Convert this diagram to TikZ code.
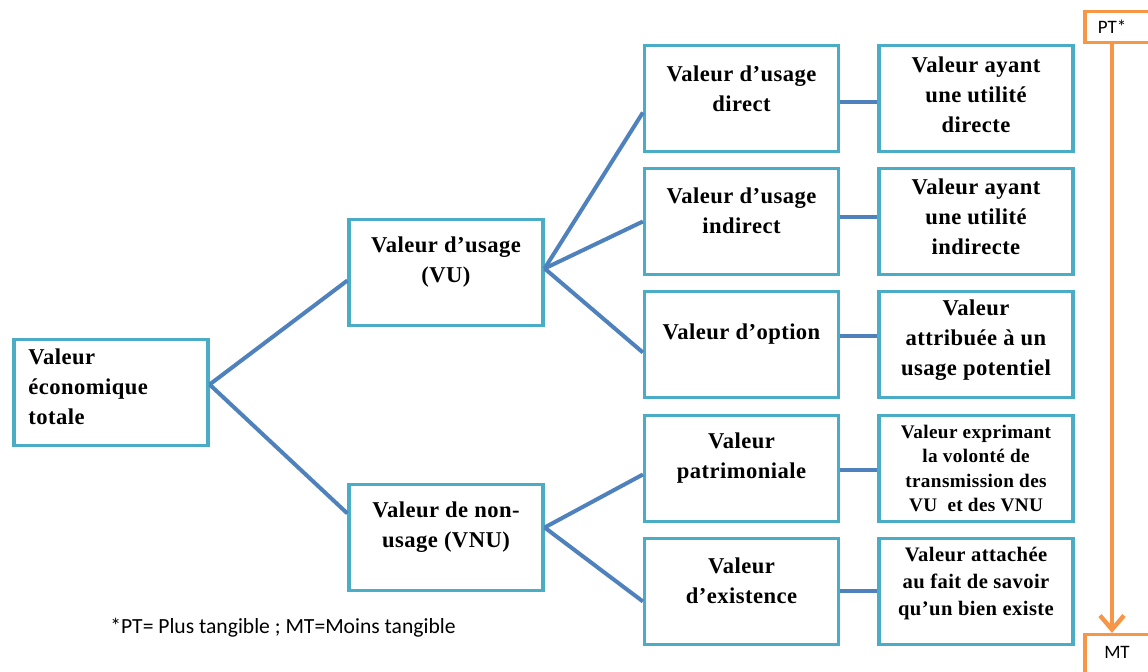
\documentclass[tikz,border=0pt]{standalone}
\usepackage{fontspec}
\setmainfont{Liberation Serif}[LetterSpace=2]
\newfontfamily\notefont{Carlito}
\usetikzlibrary{arrows.meta}

\definecolor{boxteal}{HTML}{4BACC6}
\definecolor{linkblue}{HTML}{4F81BD}
\definecolor{tangorange}{HTML}{F79646}

\tikzset{
  valbox/.style={draw=boxteal,line width=1.6pt,minimum width=97pt,minimum height=53pt,inner sep=0pt},
  valtxt/.style={font=\bfseries\fontsize{11.3}{15}\selectfont,align=center,inner sep=0pt},
  mdtxt/.style={font=\bfseries\fontsize{10.3}{13.3}\selectfont,align=center,inner sep=0pt},
  smtxt/.style={font=\bfseries\fontsize{9.6}{12.2}\selectfont,align=center,inner sep=0pt},
  link/.style={draw=linkblue,line width=2pt},
  tangbox/.style={draw=tangorange,line width=1.6pt,minimum width=37pt,inner sep=0pt},
  tangtxt/.style={font=\notefont\fontsize{9.5}{11}\selectfont,inner sep=0pt},
  tang/.style={draw=tangorange,line width=2.2pt,-{Straight Barb[length=7pt,width=12pt]}},
}

\begin{document}
\begin{tikzpicture}[x=0.5pt,y=-0.5pt]
\useasboundingbox (0,0) rectangle (1148,672);
% valeur totale
\node[valbox] (vet) at (111,392.5) {};
\node[valtxt,align=left,anchor=west] (vett) at (28,387) {Valeur\\économique\\totale};
% usage / non-usage
\node[valbox] (vu) at (446,272.5) {};
\node[valtxt] (vut) at (446,262) {Valeur d'usage\\(VU)};
\node[valbox] (vnu) at (446,537.5) {};
\node[valtxt] (vnut) at (446,527.5) {Valeur de non-\\usage (VNU)};
% types de valeur
\node[valbox] (vud) at (741.5,98.5) {};
\node[valtxt] (vudt) at (741.5,88.5) {Valeur d'usage\\direct};
\node[valbox] (vui) at (741.5,221.5) {};
\node[valtxt] (vuit) at (741.5,210.5) {Valeur d'usage\\indirect};
\node[valbox] (vo) at (741.5,344.5) {};
\node[valtxt] (vot) at (741.5,334) {Valeur d'option};
\node[valbox] (vp) at (741.5,468.5) {};
\node[valtxt] (vpt) at (741.5,458) {Valeur\\patrimoniale};
\node[valbox] (ve) at (741.5,591.5) {};
\node[valtxt] (vet2) at (741.5,580.5) {Valeur\\d'existence};
% definitions
\node[valbox] (dd) at (976,98.5) {};
\node[valtxt] (ddt) at (976,95) {Valeur ayant\\une utilité\\directe};
\node[valbox] (di) at (976,221.5) {};
\node[valtxt] (dit) at (976,217) {Valeur ayant\\une utilité\\indirecte};
\node[valbox] (dop) at (976,344.5) {};
\node[valtxt] (dopt) at (976,340) {Valeur\\attribuée à un\\usage potentiel};
\node[valbox] (dp) at (976,468.5) {};
\node[smtxt] (dpt) at (976,468.5) {Valeur exprimant\\la volonté de\\transmission des\\VU\ \ et des VNU};
\node[valbox] (de) at (976,591.5) {};
\node[mdtxt] (det) at (976,583.5) {Valeur attachée\\au fait de savoir\\qu'un bien existe};
% liens
\draw[link] ([yshift=4pt]vet.east) -- ([yshift=-4pt]vu.west);
\draw[link] ([yshift=4pt]vet.east) -- ([yshift=12pt]vnu.west);
\draw[link] ([yshift=2pt]vu.east) -- ([yshift=-7pt]vud.west);
\draw[link] ([yshift=2pt]vu.east) -- (vui.west);
\draw[link] ([yshift=2pt]vu.east) -- ([yshift=-4pt]vo.west);
\draw[link] ([yshift=5pt]vnu.east) -- ([yshift=-3pt]vp.west);
\draw[link] ([yshift=5pt]vnu.east) -- ([yshift=-5pt]ve.west);
\draw[link] ([yshift=-2pt]vud.east) -- ([yshift=-2pt]dd.west);
\draw[link] ([yshift=2pt]vui.east) -- ([yshift=2pt]di.west);
\draw[link] ([yshift=4pt]vo.east) -- ([yshift=4pt]dop.west);
\draw[link] ([yshift=-1pt]vp.east) -- ([yshift=-1pt]dp.west);
\draw[link] (ve.east) -- (de.west);
% tangibilite
\node[tangbox,minimum height=15.5pt] (pt) at (1122,27) {};
\node[tangtxt] (ptt) at (1112,27) {PT*};
\node[tangbox,minimum height=25.5pt] (mt) at (1122,660) {};
\node[tangtxt] (mtt) at (1117,652) {MT};
\draw[tang] (ptt |- pt.south) -- (ptt |- mt.north);
\node[font=\notefont\fontsize{10.8}{12}\selectfont,anchor=west,inner sep=0pt] (note) at (110,628) {*PT= Plus tangible ; MT=Moins tangible};
\end{tikzpicture}
\end{document}
